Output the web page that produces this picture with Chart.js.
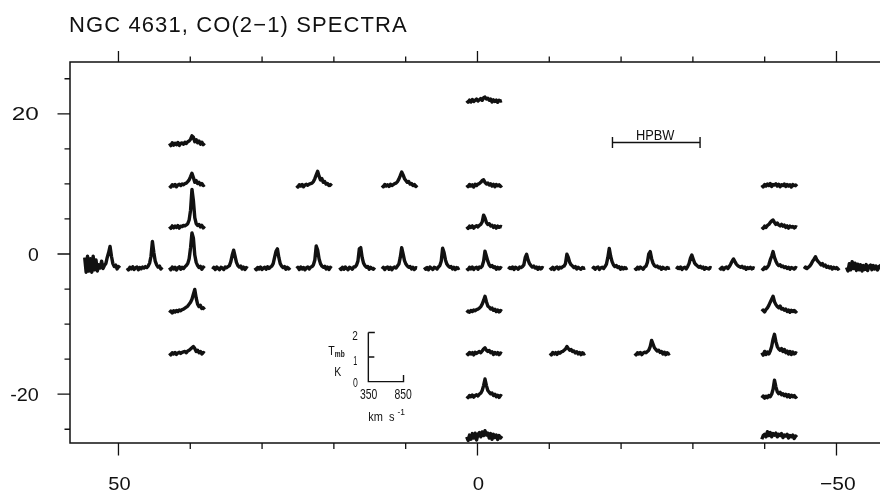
<!DOCTYPE html>
<html><head><meta charset="utf-8">
<script src="https://cdn.jsdelivr.net/npm/chart.js@4/dist/chart.umd.min.js"></script>
<style>html,body{margin:0;padding:0;background:#fff;overflow:hidden}#wrap{width:880px;height:491px}</style>
</head><body><div id="wrap"><canvas id="c" width="880" height="491"></canvas></div>
<script>
// ---------------- data ----------------
const chartTitle = 'NGC 4631, CO(2\u22121) SPECTRA';
const xMajorTicks = [50, 0, -50];
const xMajorLabels = ['50', '0', '\u221250'];
const xMinorTicks = [40, 30, 20, 10, -10, -20, -30, -40];
const yMajorTicks = [20, 0, -20];
const yMajorLabels = ['20', '0', '-20'];
const yMinorTicks = [25, 15, 10, 5, -5, -10, -15, -25];

// channel velocities (km/s)
const velocities = [350,370,390,410,430,450,470,490,510,530,550,570,590,610,630,650,670,690,710,730,750,770,790,810,830,850];
// offsets (arcsec) where each spectrum's 350 km/s edge / 0 K baseline sits
const columnOffsets = [54.7,48.8,42.9,36.9,31.0,25.2,19.2,13.3,7.4,1.5,-4.3,-10.1,-16.0,-21.9,-27.7,-33.7,-39.6,-45.5,-51.4];
const rowOffsets = [21.75,15.6,9.7,3.8,-2.07,-8.2,-14.25,-20.35,-26.25];

const spectrumColumn = [0,1,2,3,4,5,6,7,8,9,10,11,12,13,14,15,16,17,18, 2,2,2,2,2, 5,7,9,16, 9,9,16, 9,16, 9,11,13,16, 9,16, 9,16];
const spectrumRow    = [4,4,4,4,4,4,4,4,4,4,4,4,4,4,4,4,4,4,4, 1,2,3,5,6, 2,2,2,2, 0,3,3, 5,5, 6,6,6,6, 7,7, 8,8];
// main-beam temperature (K) per channel
const spectrumTmb = [
 [0.45,-0.15,0.5,-0.1,0.4,-0.15,0.5,-0.05,0.35,-0.1,0.15,0.02,0.3,0.0,0.12,0.2,0.45,0.65,0.9,0.5,0.2,0.08,0.14,-0.02,0.08,0.02],
 [0.02,-0.06,0.05,-0.02,0.07,-0.04,0.03,0.06,-0.05,0.04,-0.01,0.06,0.02,0.08,0.04,0.1,0.22,0.5,1.1,0.65,0.3,0.15,0.06,0.1,-0.02,0.05],
 [0.04,-0.05,0.06,-0.02,0.05,-0.06,0.03,0.07,-0.03,0.05,0.0,0.07,0.12,0.2,0.4,0.85,1.45,1.25,0.55,0.25,0.12,0.04,0.09,-0.03,0.06,0.01],
 [-0.03,0.05,-0.04,0.06,0.0,-0.05,0.05,0.02,-0.04,0.06,0.03,0.08,0.12,0.28,0.55,0.75,0.5,0.25,0.12,0.06,0.1,-0.02,0.06,-0.04,0.04,0.0],
 [0.03,-0.05,0.04,-0.02,0.06,-0.04,0.02,0.05,-0.03,0.07,0.0,0.06,0.1,0.2,0.45,0.7,0.8,0.45,0.2,0.1,0.04,0.08,-0.03,0.05,-0.02,0.04],
 [0.0,0.05,-0.04,0.06,-0.02,0.04,-0.05,0.03,0.06,-0.02,0.05,0.08,0.15,0.35,0.92,0.75,0.4,0.2,0.1,0.05,0.09,-0.02,0.06,-0.04,0.05,0.01],
 [0.04,-0.04,0.05,-0.03,0.06,0.0,-0.05,0.05,0.02,-0.03,0.06,0.07,0.14,0.3,0.8,0.85,0.45,0.22,0.12,0.05,0.08,-0.03,0.05,0.0,-0.03,0.04],
 [-0.02,0.05,-0.04,0.04,0.06,-0.03,0.05,-0.05,0.03,0.06,0.02,0.1,0.18,0.45,0.85,0.6,0.32,0.18,0.1,0.05,0.08,-0.02,0.05,-0.04,0.03,0.02],
 [0.05,-0.03,0.04,-0.05,0.06,0.01,-0.04,0.05,0.03,-0.02,0.06,0.12,0.3,0.83,0.65,0.35,0.18,0.1,0.05,0.08,-0.02,0.05,-0.04,0.04,0.0,0.03],
 [0.02,-0.05,0.05,-0.02,0.06,-0.04,0.03,0.05,-0.03,0.06,0.04,0.1,0.3,0.71,0.5,0.3,0.15,0.08,0.12,0.04,0.07,-0.03,0.05,-0.02,0.04,0.0],
 [-0.03,0.04,0.0,0.06,-0.04,0.05,0.02,-0.03,0.06,0.04,0.08,0.15,0.45,0.58,0.35,0.2,0.12,0.06,0.1,0.02,0.06,-0.03,0.05,-0.02,0.04,0.01],
 [0.04,-0.03,0.05,-0.04,0.03,0.06,-0.02,0.05,0.02,0.07,0.1,0.2,0.58,0.45,0.25,0.15,0.1,0.04,0.08,-0.02,0.05,0.0,-0.03,0.04,0.01,0.03],
 [-0.02,0.05,-0.03,0.04,0.06,-0.04,0.03,0.05,0.0,0.08,0.18,0.45,0.82,0.5,0.28,0.15,0.08,0.12,0.04,0.07,-0.03,0.05,-0.02,0.04,0.0,0.03],
 [0.03,-0.04,0.05,-0.02,0.06,0.02,-0.03,0.06,0.1,0.25,0.6,0.69,0.4,0.22,0.12,0.08,0.1,0.03,0.06,-0.03,0.05,0.0,-0.02,0.04,0.01,0.03],
 [-0.03,0.05,0.0,0.06,-0.04,0.03,0.05,-0.02,0.08,0.2,0.42,0.55,0.38,0.22,0.15,0.1,0.05,0.09,0.02,0.06,-0.03,0.04,0.0,-0.02,0.04,0.02],
 [0.04,-0.02,0.05,-0.04,0.03,0.06,0.0,0.08,0.18,0.3,0.39,0.28,0.18,0.12,0.08,0.05,0.09,0.02,0.06,-0.03,0.04,0.0,0.05,-0.02,0.03,0.01],
 [0.02,-0.04,0.05,0.0,0.06,0.15,0.35,0.5,0.69,0.45,0.3,0.18,0.12,0.15,0.08,0.1,0.04,0.07,0.0,0.05,-0.03,0.04,0.02,-0.02,0.04,0.01],
 [-0.02,0.06,0.0,0.05,0.1,0.18,0.3,0.38,0.48,0.35,0.28,0.22,0.15,0.2,0.1,0.14,0.05,0.09,0.02,0.07,-0.02,0.05,0.0,0.04,-0.03,0.02],
 [0.05,-0.1,0.2,-0.05,0.28,0.0,0.22,-0.08,0.18,-0.05,0.15,-0.1,0.12,-0.04,0.16,-0.08,0.1,0.14,-0.05,0.12,-0.02,0.1,-0.06,0.08,0.12,-0.04],
 [0.05,-0.04,0.08,-0.02,0.06,0.0,0.09,-0.03,0.05,0.07,0.02,0.1,0.05,0.12,0.15,0.22,0.36,0.3,0.12,0.2,0.08,0.15,0.02,0.1,0.0,0.06],
 [0.02,-0.04,0.05,0.0,0.06,-0.03,0.04,0.07,0.02,0.08,0.05,0.1,0.12,0.18,0.25,0.38,0.52,0.35,0.15,0.22,0.1,0.15,0.05,0.1,0.02,0.06],
 [0.04,-0.04,0.06,-0.02,0.05,0.0,0.07,-0.03,0.05,0.03,0.08,0.06,0.1,0.15,0.3,0.7,1.55,1.1,0.4,0.15,0.08,0.12,0.02,0.08,-0.02,0.05],
 [-0.05,0.02,-0.06,0.03,-0.02,0.04,0.0,0.06,0.03,0.08,0.1,0.14,0.18,0.22,0.3,0.38,0.5,0.7,0.9,0.55,0.3,0.2,0.25,0.12,0.15,0.08],
 [0.03,-0.04,0.05,0.0,0.06,-0.02,0.04,0.07,0.02,0.06,0.08,0.1,0.05,0.12,0.15,0.2,0.25,0.3,0.22,0.1,0.15,0.05,0.1,0.0,0.06,0.02],
 [0.02,-0.04,0.05,0.0,0.06,-0.03,0.04,0.07,0.03,0.08,0.1,0.12,0.18,0.3,0.45,0.6,0.4,0.25,0.3,0.15,0.18,0.08,0.1,0.02,0.06,0.0],
 [0.03,-0.03,0.06,0.0,0.05,-0.02,0.07,0.02,0.06,0.1,0.12,0.18,0.28,0.42,0.57,0.45,0.3,0.22,0.15,0.18,0.08,0.1,0.02,0.06,-0.02,0.04],
 [0.04,-0.03,0.06,0.0,0.05,-0.04,0.07,0.02,0.08,0.1,0.15,0.22,0.25,0.15,0.08,0.12,0.04,0.09,0.0,0.07,-0.03,0.06,0.01,0.05,-0.02,0.03],
 [0.04,-0.04,0.06,0.0,0.08,0.02,0.1,-0.02,0.06,0.04,0.09,0.0,0.07,-0.03,0.05,0.02,0.08,-0.02,0.06,0.0,0.05,-0.04,0.06,0.02,0.04,-0.02],
 [0.04,-0.03,0.06,-0.02,0.08,0.0,0.05,0.1,0.02,0.07,0.12,0.05,0.15,0.18,0.1,0.13,0.05,0.1,-0.02,0.07,0.0,0.06,-0.03,0.05,0.02,0.04],
 [0.03,-0.04,0.05,0.0,0.06,-0.03,0.04,0.07,0.02,0.08,0.12,0.22,0.5,0.38,0.2,0.12,0.15,0.06,0.09,0.0,0.06,-0.03,0.05,0.0,0.04,0.02],
 [0.02,-0.04,0.05,0.0,0.08,0.12,0.2,0.26,0.3,0.2,0.12,0.18,0.1,0.06,0.12,0.05,0.09,0.0,0.06,-0.03,0.05,0.01,0.04,-0.02,0.03,0.0],
 [-0.05,0.02,-0.03,0.04,0.0,0.06,0.03,0.08,0.1,0.14,0.2,0.3,0.45,0.62,0.4,0.22,0.18,0.1,0.14,0.05,0.09,0.0,0.06,-0.02,0.04,0.0],
 [0.0,0.06,-0.02,0.08,0.15,0.25,0.38,0.5,0.62,0.4,0.28,0.2,0.15,0.22,0.1,0.12,0.05,0.1,0.0,0.06,-0.03,0.05,0.0,0.04,-0.02,0.03],
 [0.04,-0.03,0.06,0.0,0.05,-0.04,0.07,0.02,0.06,0.1,0.05,0.12,0.2,0.25,0.15,0.1,0.14,0.05,0.09,-0.02,0.06,0.0,0.05,-0.03,0.04,0.01],
 [0.03,-0.04,0.06,0.0,0.05,-0.02,0.07,0.03,0.08,0.1,0.15,0.2,0.3,0.22,0.15,0.18,0.1,0.12,0.04,0.09,0.0,0.06,-0.03,0.05,0.0,0.03],
 [0.02,-0.04,0.05,0.0,0.06,-0.03,0.04,0.07,0.05,0.1,0.15,0.3,0.55,0.4,0.25,0.18,0.12,0.15,0.06,0.1,0.0,0.07,-0.03,0.05,0.0,0.03],
 [0.05,-0.05,0.1,-0.02,0.08,0.0,0.12,0.3,0.6,0.8,0.5,0.3,0.2,0.15,0.22,0.1,0.18,0.05,0.12,0.0,0.1,-0.02,0.08,0.0,0.05,0.02],
 [0.02,-0.04,0.05,0.0,0.07,-0.02,0.05,0.08,0.03,0.1,0.14,0.25,0.45,0.72,0.45,0.25,0.18,0.12,0.15,0.05,0.1,0.0,0.06,-0.03,0.05,0.01],
 [-0.05,0.03,-0.06,0.02,-0.04,0.05,0.0,0.1,0.3,0.67,0.4,0.2,0.12,0.18,0.08,0.12,0.04,0.1,0.0,0.08,-0.02,0.06,0.0,0.05,-0.03,0.02],
 [0.05,-0.1,0.12,-0.05,0.18,0.0,0.2,-0.08,0.15,0.22,0.05,0.25,0.1,0.3,0.12,0.2,0.0,0.18,-0.05,0.15,0.02,0.12,-0.06,0.1,0.0,0.08],
 [-0.05,0.1,0.15,0.05,0.26,0.1,0.22,0.05,0.18,0.12,0.2,0.05,0.15,0.1,0.18,0.02,0.12,0.08,0.15,0.0,0.1,0.05,0.12,-0.02,0.08,0.03]
];

// scale-bar glyph and beam
const scaleBarVelocities = [350, 850];
const scaleBarTmbTicks = [0, 1, 2];
const scaleBarPosition = [15.2, -18.2];   // arcsec, arcsec
const hpbwRange = [-18.8, -31.0];
const hpbwDec = 15.9;

// ---------------- geometry of the mini-spectra (sizes, not data) ----------------
const ARCSEC_PER_KMS = 4.9 / 500;
const ARCSEC_PER_K = 3.5;
const FONT = "'Liberation Sans', Arial, sans-serif";
const INK = '#111';

const datasets = spectrumTmb.map((tmb, s) => {
  const x0 = columnOffsets[spectrumColumn[s]];
  const y0 = rowOffsets[spectrumRow[s]];
  return {
    data: velocities.map((v, i) => ({ x: x0 - (v - velocities[0]) * ARCSEC_PER_KMS, y: y0 + tmb[i] * ARCSEC_PER_K })),
    showLine: true, pointRadius: 0, borderColor: INK, borderWidth: 3.4,
    borderJoinStyle: 'round', borderCapStyle: 'butt', tension: 0, clip: 6
  };
});

function inkText(ctx, text, x, y, inkW, size, align, weight) {
  ctx.save();
  ctx.font = (weight || 'normal') + ' ' + size + 'px ' + FONT;
  ctx.textAlign = 'left'; ctx.textBaseline = 'alphabetic';
  const m = ctx.measureText(text);
  const w = m.actualBoundingBoxLeft + m.actualBoundingBoxRight;
  const sx = inkW / w;
  let left = x;
  if (align === 'center') left = x - inkW / 2;
  else if (align === 'right') left = x - inkW;
  ctx.translate(left, y);
  ctx.scale(sx, 1);
  ctx.fillStyle = INK;
  ctx.fillText(text, m.actualBoundingBoxLeft, 0);
  ctx.restore();
}

const framePlugin = {
  id: 'frame',
  afterDraw(chart) {
    const ctx = chart.ctx, a = chart.chartArea;
    const xs = chart.scales.x, ys = chart.scales.y;
    ctx.save();
    ctx.strokeStyle = INK; ctx.lineWidth = 1.5; ctx.lineCap = 'butt';
    // frame: left, top, bottom
    ctx.beginPath();
    ctx.moveTo(a.right, a.top); ctx.lineTo(a.left, a.top); ctx.lineTo(a.left, a.bottom); ctx.lineTo(a.right, a.bottom);
    ctx.stroke();
    ctx.lineWidth = 1.3;
    ctx.beginPath();
    xMajorTicks.forEach(v => { const p = xs.getPixelForValue(v);
      ctx.moveTo(p, a.bottom); ctx.lineTo(p, a.bottom + 12.5);
      ctx.moveTo(p, a.top); ctx.lineTo(p, a.top - 11); });
    xMinorTicks.forEach(v => { const p = xs.getPixelForValue(v);
      ctx.moveTo(p, a.bottom); ctx.lineTo(p, a.bottom + 6);
      ctx.moveTo(p, a.top); ctx.lineTo(p, a.top - 5.5); });
    yMajorTicks.forEach(v => { const p = ys.getPixelForValue(v);
      ctx.moveTo(a.left, p); ctx.lineTo(a.left - 12.5, p); });
    yMinorTicks.forEach(v => { const p = ys.getPixelForValue(v);
      ctx.moveTo(a.left, p); ctx.lineTo(a.left - 5.5, p); });
    ctx.stroke();

    // tick labels
    const yW = [26.7, 10.5, 28.3];
    yMajorTicks.forEach((v, i) => inkText(ctx, yMajorLabels[i], a.left - 31.5, ys.getPixelForValue(v) + 6.5, yW[i], 18.5, 'right'));
    const xW = [21.7, 10.7, 35];
    const xShift = [0.7, 0.5, 1];
    xMajorTicks.forEach((v, i) => inkText(ctx, xMajorLabels[i], xs.getPixelForValue(v) + xShift[i], a.bottom + 46.5, xW[i], 19, 'center'));

    // title
    ctx.font = '22px ' + FONT;
    ctx.fillStyle = INK; ctx.textAlign = 'left'; ctx.textBaseline = 'alphabetic';
    const m = ctx.measureText(chartTitle);
    const ink = m.actualBoundingBoxLeft + m.actualBoundingBoxRight;
    const ls = (337 - ink) / (chartTitle.length - 1);
    ctx.letterSpacing = ls + 'px';
    ctx.fillText(chartTitle, 70 + m.actualBoundingBoxLeft, 31.5);
    ctx.letterSpacing = '0px';

    // scale-bar glyph
    const ox = xs.getPixelForValue(scaleBarPosition[0]);
    const oy = ys.getPixelForValue(scaleBarPosition[1]);
    const px = v => xs.getPixelForValue(scaleBarPosition[0] - (v - scaleBarVelocities[0]) * ARCSEC_PER_KMS);
    const py = t => ys.getPixelForValue(scaleBarPosition[1] + t * ARCSEC_PER_K);
    const xr = px(scaleBarVelocities[1]);
    const ytop = py(scaleBarTmbTicks[2]);
    ctx.lineWidth = 1.4;
    ctx.beginPath();
    ctx.moveTo(ox, ytop); ctx.lineTo(ox, oy); ctx.lineTo(xr, oy); ctx.lineTo(xr, oy - 6.5);
    ctx.moveTo(ox, ytop); ctx.lineTo(ox + 6.5, ytop);
    ctx.moveTo(ox, py(1)); ctx.lineTo(ox + 6, py(1));
    ctx.stroke();
    inkText(ctx, '2', ox - 10.8, ytop + 7, 5.2, 13.5, 'right');
    inkText(ctx, '1', ox - 11.3, py(1) + 7.5, 3.2, 13.5, 'right');
    inkText(ctx, '0', ox - 10.8, oy + 5.2, 4.5, 13.5, 'right');
    inkText(ctx, String(scaleBarVelocities[0]), ox - 8.3, oy + 17.5, 17.5, 14, 'left');
    inkText(ctx, String(scaleBarVelocities[1]), xr - 9, oy + 17.5, 17.5, 14, 'left');
    inkText(ctx, 'T', ox - 40, oy - 26.5, 6.5, 13, 'left');
    inkText(ctx, 'mb', ox - 33.5, oy - 24.2, 10, 9.5, 'left', 'bold');
    inkText(ctx, 'K', ox - 33.3, oy - 5.8, 6.2, 13.5, 'left');
    inkText(ctx, 'km  s', ox + 0, oy + 39, 26.7, 13, 'left');
    inkText(ctx, '-1', ox + 29.2, oy + 33.3, 7.5, 9, 'left');

    // HPBW bar
    const hx1 = xs.getPixelForValue(hpbwRange[0]);
    const hx2 = xs.getPixelForValue(hpbwRange[1]);
    const hy = ys.getPixelForValue(hpbwDec);
    ctx.beginPath();
    ctx.moveTo(hx1, hy); ctx.lineTo(hx2, hy);
    ctx.moveTo(hx1, hy - 5.5); ctx.lineTo(hx1, hy + 5.5);
    ctx.moveTo(hx2, hy - 5.5); ctx.lineTo(hx2, hy + 5.5);
    ctx.stroke();
    inkText(ctx, 'HPBW', (hx1 + hx2) / 2 - 0.3, hy - 2.7, 38.3, 15, 'center');
    ctx.restore();
  }
};

new Chart(document.getElementById('c'), {
  type: 'scatter',
  data: { datasets },
  options: {
    responsive: false, animation: false, events: [],
    layout: { padding: { left: 70, right: 0, top: 62, bottom: 48 } },
    plugins: { legend: { display: false }, tooltip: { enabled: false }, title: { display: false } },
    scales: {
      x: { type: 'linear', reverse: true, min: -56.06, max: 56.75, display: false },
      y: { type: 'linear', min: -26.96, max: 27.39, display: false }
    }
  },
  plugins: [framePlugin]
});
</script>
</body></html>
